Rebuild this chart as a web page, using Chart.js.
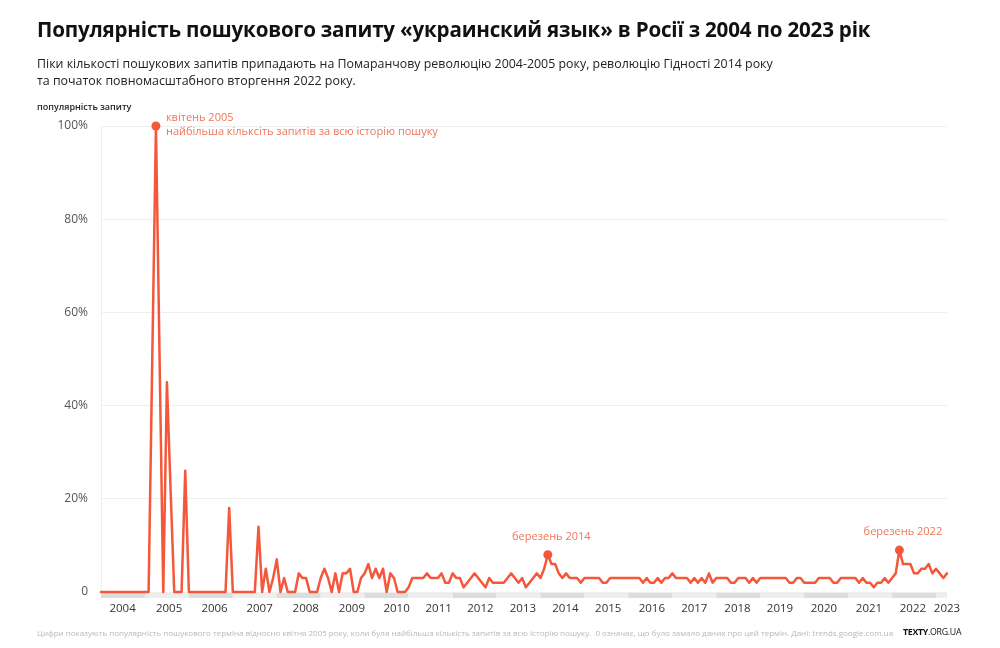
<!DOCTYPE html>
<html lang="uk">
<head>
<meta charset="utf-8">
<script src="https://cdn.jsdelivr.net/npm/chart.js@4.4.0/dist/chart.umd.min.js"></script>
<style>
  body { margin: 0; background: #fff; font-family: "Open Sans", sans-serif; }
  #wrap { position: relative; width: 1000px; height: 648px; overflow: hidden; }
  canvas { position: absolute; left: 0; top: 0; }
  .txt { position: absolute; white-space: nowrap; }
  #title { left: 37px; top: 15px; font-size: 20.6px; font-weight: 700; color: #111; letter-spacing: -0.2px; }
  #sub { left: 37px; top: 55px; font-size: 12.4px; line-height: 17px; color: #222; }
  #ytitle { left: 37px; top: 100px; font-size: 9px; font-weight: 600; color: #222; }
  #note { left: 37px; top: 627px; font-size: 8px; color: #b8b8b8; }
  #brand { left: 903px; top: 626px; font-size: 8.8px; color: #111; letter-spacing: -0.3px; }
</style>
</head>
<body>
<div id="wrap">
  <canvas id="chart" width="1000" height="648"></canvas>
  <div class="txt" id="title">Популярність пошукового запиту «украинский язык» в Росії з 2004 по 2023 рік</div>
  <div class="txt" id="sub">Піки кількості пошукових запитів припадають на Помаранчову революцію 2004-2005 року, революцію Гідності 2014 року<br>та початок повномасштабного вторгення 2022 року.</div>
  <div class="txt" id="ytitle">популярність запиту</div>
  <div class="txt" id="note">Цифри показують популярність пошукового терміна відносно квітня 2005 року, коли була найбільша кількість запитів за всю історію пошуку.&nbsp; 0 означає, що було замало даних про цей термін. Дані: trends.google.com.ua</div>
  <div class="txt" id="brand"><b>TEXTY</b>.ORG.UA</div>
</div>
<script>
// monthly values, January 2004 .. April 2023 (Google Trends, 100 = April 2005)
const popularity = [
  0, 0, 0, 0, 0, 0, 0, 0, 0, 0, 0, 0,          // 2004
  0, 0, 50, 100, 50, 0, 45, 22, 0, 0, 0, 26,   // 2005
  0, 0, 0, 0, 0, 0, 0, 0, 0, 0, 0, 18,         // 2006
  0, 0, 0, 0, 0, 0, 0, 14, 0, 5, 0, 3,         // 2007
  7, 0, 3, 0, 0, 0, 4, 3, 3, 0, 0, 0,          // 2008
  3, 5, 3, 0, 4, 0, 4, 4, 5, 0, 0, 3,          // 2009
  4, 6, 3, 5, 3, 5, 0, 4, 3, 0, 0, 0,          // 2010
  1, 3, 3, 3, 3, 4, 3, 3, 3, 4, 2, 2,          // 2011
  4, 3, 3, 1, 2, 3, 4, 3, 2, 1, 3, 2,          // 2012
  2, 2, 2, 3, 4, 3, 2, 3, 1, 2, 3, 4,          // 2013
  3, 5, 8, 6, 6, 4, 3, 4, 3, 3, 3, 2,          // 2014
  3, 3, 3, 3, 3, 2, 2, 3, 3, 3, 3, 3,          // 2015
  3, 3, 3, 3, 2, 3, 2, 2, 3, 2, 3, 3,          // 2016
  4, 3, 3, 3, 3, 2, 3, 2, 3, 2, 4, 2,          // 2017
  3, 3, 3, 3, 2, 2, 3, 3, 3, 2, 3, 2,          // 2018
  3, 3, 3, 3, 3, 3, 3, 3, 2, 2, 3, 3,          // 2019
  2, 2, 2, 2, 3, 3, 3, 3, 2, 2, 3, 3,          // 2020
  3, 3, 3, 2, 3, 2, 2, 1, 2, 2, 3, 2,          // 2021
  3, 4, 9, 6, 6, 6, 4, 4, 5, 5, 6, 4,          // 2022
  5, 4, 3, 4                                   // 2023
];

const years = ['2004', '2005', '2006', '2007', '2008', '2009', '2010', '2011', '2012', '2013',
               '2014', '2015', '2016', '2017', '2018', '2019', '2020', '2021', '2022', '2023'];
// where each year label sits, in months since Jan 2004
const yearTickAt = [5.9, 18.6, 31, 43.3, 55.9, 68.5, 80.7, 92.2, 103.6, 115.2,
                    126.8, 138.5, 150.4, 162, 173.8, 185.4, 197.4, 209.7, 221.7, 231];

const yTicks = [0, 20, 40, 60, 80, 100];

const notes = [
  { at: 15, lines: ['квітень 2005', 'найбільша кільксіть запитів за всю історію пошуку'] },
  { at: 122, lines: ['березень 2014'] },
  { at: 218, lines: ['березень 2022'] }
];

const lastIdx = popularity.length - 1;
const LINE = '#f4573a';
const NOTE = '#f27559';

const yearBands = {
  id: 'yearBands',
  beforeDatasetsDraw(chart) {
    const { ctx, scales: { x }, chartArea } = chart;
    ctx.save();
    years.forEach((yr, k) => {
      const a = x.getPixelForValue(Math.min(k * 12, lastIdx));
      const b = x.getPixelForValue(Math.min((k + 1) * 12, lastIdx));
      if (b <= a) return;
      ctx.fillStyle = k % 2 ? '#eeeeee' : '#dddddd';
      ctx.fillRect(a, chartArea.bottom + 1, b - a, 5);
    });
    ctx.restore();
  }
};

const noteLabels = {
  id: 'noteLabels',
  afterDatasetsDraw(chart) {
    const { ctx, scales: { x, y } } = chart;
    ctx.save();
    ctx.fillStyle = NOTE;
    ctx.font = '11px "Open Sans", sans-serif';
    ctx.textBaseline = 'middle';
    notes.forEach((n, i) => {
      const px = x.getPixelForValue(n.at);
      const py = y.getPixelForValue(popularity[n.at]);
      if (i === 0) {
        ctx.textAlign = 'left';
        ctx.fillText(n.lines[0], px + 10, py - 8);
        ctx.fillText(n.lines[1], px + 10, py + 6);
      } else {
        ctx.textAlign = 'center';
        ctx.fillText(n.lines[0], px + 3.5, py - 18);
      }
    });
    ctx.restore();
  }
};

const noteIdx = notes.map(n => n.at);

new Chart(document.getElementById('chart'), {
  type: 'line',
  data: {
    datasets: [{
      data: popularity.map((v, i) => ({ x: i, y: v })),
      borderColor: LINE,
      backgroundColor: LINE,
      borderWidth: 2.5,
      borderJoinStyle: 'round',
      borderCapStyle: 'round',
      tension: 0,
      pointRadius: ctx => noteIdx.includes(ctx.dataIndex) ? 4.5 : 0,
      pointBorderWidth: 0,
      clip: false
    }]
  },
  options: {
    responsive: false,
    animation: false,
    devicePixelRatio: 1,
    layout: { padding: { left: 0, right: 53, top: 126, bottom: 0 } },
    plugins: { legend: { display: false }, tooltip: { enabled: false } },
    scales: {
      x: {
        type: 'linear',
        min: 0,
        max: lastIdx,
        afterFit: s => { s.height = 56; },
        afterBuildTicks: s => { s.ticks = yearTickAt.map(v => ({ value: v })); },
        grid: { display: false, drawTicks: false },
        border: { display: false },
        ticks: {
          autoSkip: false,
          maxRotation: 0,
          padding: 10,
          color: '#333',
          font: { family: '"Open Sans", sans-serif', size: 11.5 },
          callback: (v, i) => years[i]
        }
      },
      y: {
        min: 0,
        max: 100,
        afterFit: s => { s.width = 101; },
        afterBuildTicks: s => { s.ticks = yTicks.map(v => ({ value: v })); },
        grid: { color: '#efefef', lineWidth: 1, drawTicks: false },
        border: { display: true, color: '#eeeeee' },
        ticks: {
          padding: 13,
          color: '#555',
          font: { family: '"Open Sans", sans-serif', size: 12 },
          callback: v => v === 0 ? '0' : v + '%'
        }
      }
    }
  },
  plugins: [yearBands, noteLabels]
});
</script>
</body>
</html>
